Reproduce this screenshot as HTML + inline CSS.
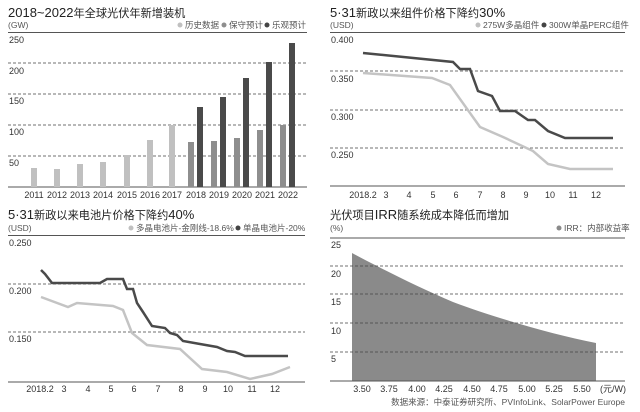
<!DOCTYPE html>
<html><head><meta charset="utf-8"><style>
html,body{margin:0;padding:0;background:#fff;}
svg{display:block;font-family:"Liberation Sans","Noto Sans CJK SC",sans-serif;}
.t{font-size:13px;fill:#222;}
.c{font-size:11.2px;}
.u{font-size:8.5px;fill:#555;}
.l{font-size:9px;fill:#333;}
.g{stroke:#444;stroke-width:0.8;stroke-dasharray:3,2;}
.a{stroke:#555;stroke-width:1;}
</style></head><body>
<svg width="640" height="412" viewBox="0 0 640 412">
<!-- Chart 1 -->
<text x="8" y="17" class="t">2018~2022<tspan class="c">年全球光伏年新增装机</tspan></text>
<text x="8" y="28" class="u">(GW)</text>
<circle cx="180" cy="25" r="2.5" fill="#c0c0c0"/><text x="185" y="28" class="u">历史数据</text>
<circle cx="224" cy="25" r="2.5" fill="#8e8e8e"/><text x="229" y="28" class="u">保守预计</text>
<circle cx="267" cy="25" r="2.5" fill="#444"/><text x="272" y="28" class="u">乐观预计</text>
<line x1="8" y1="32.5" x2="307" y2="32.5" class="a"/>
<line x1="8" y1="63" x2="307" y2="63" class="g"/>
<line x1="8" y1="94" x2="307" y2="94" class="g"/>
<line x1="8" y1="125" x2="307" y2="125" class="g"/>
<line x1="8" y1="156" x2="307" y2="156" class="g"/>
<line x1="8" y1="187" x2="307" y2="187" class="a"/>
<text x="9" y="43" class="l">250</text><text x="9" y="74" class="l">200</text><text x="9" y="104" class="l">150</text><text x="9" y="135" class="l">100</text><text x="9" y="166" class="l">50</text>
<g fill="#c0c0c0">
<rect x="31" y="168" width="6" height="19"/><rect x="54" y="169" width="6" height="18"/><rect x="77" y="164" width="6" height="23"/><rect x="100" y="162" width="6" height="25"/><rect x="124" y="155" width="6" height="32"/><rect x="147" y="140" width="6" height="47"/><rect x="169" y="125" width="6" height="62"/>
</g>
<g fill="#8e8e8e">
<rect x="188" y="142" width="6" height="45"/><rect x="211" y="141" width="6" height="46"/><rect x="234" y="138" width="6" height="49"/><rect x="257" y="130" width="6" height="57"/><rect x="280" y="125" width="6" height="62"/>
</g>
<g fill="#4a4a4a">
<rect x="197" y="107" width="6" height="80"/><rect x="220" y="97" width="6" height="90"/><rect x="243" y="78" width="6" height="109"/><rect x="266" y="62" width="6" height="125"/><rect x="289" y="43" width="6" height="144"/>
</g>
<g class="l" text-anchor="middle">
<text x="34" y="198">2011</text><text x="57" y="198">2012</text><text x="80" y="198">2013</text><text x="103" y="198">2014</text><text x="127" y="198">2015</text><text x="150" y="198">2016</text><text x="172" y="198">2017</text><text x="196" y="198">2018</text><text x="219" y="198">2019</text><text x="242" y="198">2020</text><text x="265" y="198">2021</text><text x="288" y="198">2022</text>
</g>
<!-- Chart 2 -->
<text x="330" y="17" class="t">5·31<tspan class="c">新政以来组件价格下降约</tspan>30%</text>
<text x="330" y="28" class="u">(USD)</text>
<circle cx="478" cy="25" r="2.5" fill="#c0c0c0"/><text x="483" y="28" class="u">275W多晶组件</text>
<circle cx="544" cy="25" r="2.5" fill="#444"/><text x="549" y="28" class="u">300W单晶PERC组件</text>
<line x1="330" y1="32.5" x2="625" y2="32.5" class="a"/>
<line x1="330" y1="71" x2="625" y2="71" class="g"/>
<line x1="330" y1="110" x2="625" y2="110" class="g"/>
<line x1="330" y1="148" x2="625" y2="148" class="g"/>
<line x1="330" y1="186" x2="625" y2="186" class="a"/>
<text x="331" y="43" class="l">0.400</text><text x="331" y="82" class="l">0.350</text><text x="331" y="120" class="l">0.300</text><text x="331" y="158" class="l">0.250</text>
<polyline fill="none" stroke="#c4c4c4" stroke-width="2.5" points="363,73 432,78 450,85 480,127 503,137 533,151 548,164 570,169 613,169"/>
<polyline fill="none" stroke="#4a4a4a" stroke-width="2.5" points="363,53 453,62 460,69 470,69 478,91 492,96 500,111 515,111 528,120 535,120 548,131 565,138 613,138"/>
<g class="l" text-anchor="middle">
<text x="363" y="198">2018.2</text><text x="386" y="198">3</text><text x="409" y="198">4</text><text x="433" y="198">5</text><text x="456" y="198">6</text><text x="480" y="198">7</text><text x="503" y="198">8</text><text x="526" y="198">9</text><text x="550" y="198">10</text><text x="573" y="198">11</text><text x="596" y="198">12</text>
</g>
<!-- Chart 3 -->
<text x="8" y="219" class="t">5·31<tspan class="c">新政以来电池片价格下降约</tspan>40%</text>
<text x="8" y="231" class="u">(USD)</text>
<circle cx="131" cy="228" r="2.5" fill="#c0c0c0"/><text x="136" y="231" class="u">多晶电池片-金刚线-18.6%</text>
<circle cx="238" cy="228" r="2.5" fill="#444"/><text x="243" y="231" class="u">单晶电池片-20%</text>
<line x1="8" y1="235.5" x2="305" y2="235.5" class="a"/>
<line x1="8" y1="284" x2="305" y2="284" class="g"/>
<line x1="8" y1="332" x2="305" y2="332" class="g"/>
<line x1="8" y1="382" x2="305" y2="382" class="a"/>
<text x="9" y="246" class="l">0.250</text><text x="9" y="294" class="l">0.200</text><text x="9" y="342" class="l">0.150</text>
<polyline fill="none" stroke="#c4c4c4" stroke-width="2.5" points="41,297 68,307 77,303 113,306 123,310 132,333 147,345 180,349 202,369 227,372 250,379 272,374 290,367"/>
<polyline fill="none" stroke="#4a4a4a" stroke-width="2.5" points="41,270 45,274 52,283 100,283 107,279 123,279 127,289 133,289 137,303 143,312 152,326 165,328 170,333 177,335 183,341 200,344 217,347 227,351 235,352 245,356 288,356"/>
<g class="l" text-anchor="middle">
<text x="40" y="392">2018.2</text><text x="64" y="392">3</text><text x="88" y="392">4</text><text x="111" y="392">5</text><text x="134" y="392">6</text><text x="158" y="392">7</text><text x="181" y="392">8</text><text x="205" y="392">9</text><text x="228" y="392">10</text><text x="252" y="392">11</text><text x="275" y="392">12</text>
</g>
<!-- Chart 4 -->
<text x="330" y="219" class="t"><tspan class="c">光伏项目</tspan>IRR<tspan class="c">随系统成本降低而增加</tspan></text>
<text x="330" y="231" class="u">(%)</text>
<circle cx="559" cy="228" r="2.5" fill="#8a8a8a"/><text x="564" y="231" class="u">IRR：内部收益率</text>
<line x1="330" y1="238" x2="625" y2="238" class="a"/>
<path d="M352,253 C380,268 420,288 453,302 C490,316 550,334 596,343 L596,381 L352,381 Z" fill="#8a8a8a"/>
<line x1="330" y1="266" x2="625" y2="266" class="g"/>
<line x1="330" y1="294" x2="625" y2="294" class="g"/>
<line x1="330" y1="323" x2="625" y2="323" class="g"/>
<line x1="330" y1="352" x2="625" y2="352" class="g"/>
<line x1="330" y1="381" x2="625" y2="381" class="a"/>
<text x="331" y="248" class="l">25</text><text x="331" y="277" class="l">20</text><text x="331" y="305" class="l">15</text><text x="331" y="334" class="l">10</text><text x="331" y="362" class="l">5</text>
<g class="l" text-anchor="middle">
<text x="362" y="392">3.50</text><text x="389" y="392">3.75</text><text x="417" y="392">4.00</text><text x="444" y="392">4.25</text><text x="472" y="392">4.50</text><text x="499" y="392">4.75</text><text x="527" y="392">5.00</text><text x="554" y="392">5.25</text><text x="582" y="392">5.50</text><text x="613" y="392">(元/W)</text>
</g>
<text x="625" y="405" class="u" text-anchor="end">数据来源：中泰证券研究所、PVInfoLink、SolarPower Europe</text>
</svg>
</body></html>
